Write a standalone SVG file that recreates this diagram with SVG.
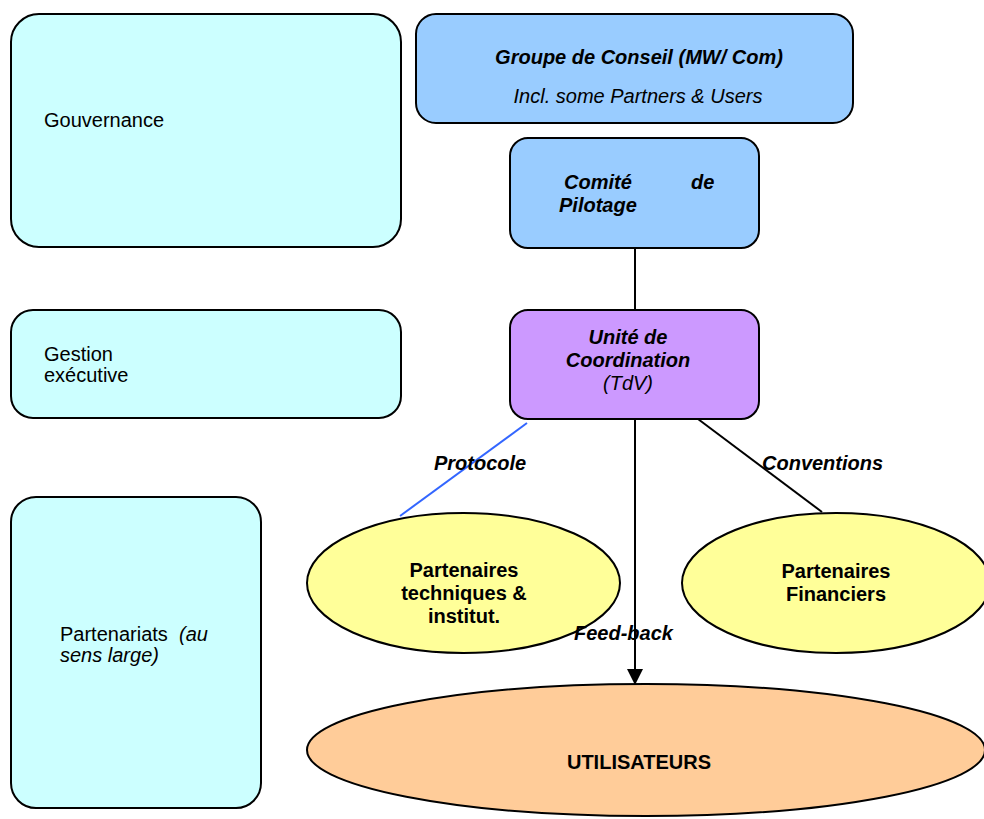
<svg xmlns="http://www.w3.org/2000/svg" width="984" height="819" viewBox="0 0 984 819">
<style>
text{font-family:"Liberation Sans",Arial,sans-serif;font-size:20px;fill:#000}
.b{font-weight:bold}
.i{font-style:italic}
.m{text-anchor:middle}
.cyan{fill:#CCFFFF;stroke:#000;stroke-width:2}
.blue{fill:#99CCFF;stroke:#000;stroke-width:2}
.purple{fill:#CC99FF;stroke:#000;stroke-width:2}
.yellow{fill:#FFFF99;stroke:#000;stroke-width:2}
.orange{fill:#FFCC99;stroke:#000;stroke-width:2}
.ln{stroke:#000;stroke-width:2;fill:none}
</style>
<defs>
<marker id="arr" markerWidth="16" markerHeight="18" refX="15" refY="8" orient="auto" markerUnits="userSpaceOnUse" viewBox="0 0 16 16">
<path d="M0,0 L16,8 L0,16 Z" fill="#000"/>
</marker>
</defs>
<rect width="984" height="819" fill="#fff"/>

<g id="gouvernance">
<rect class="cyan" x="11" y="14" width="390" height="233" rx="28" ry="28"/>
<text x="44" y="127">Gouvernance</text>
</g>
<g id="gestion">
<rect class="cyan" x="11" y="310" width="390" height="108" rx="22" ry="22"/>
<text x="44" y="361">Gestion</text>
<text x="44" y="382">exécutive</text>
</g>
<g id="partenariats">
<rect class="cyan" x="11" y="497" width="250" height="311" rx="25" ry="25"/>
<text x="60" y="641">Partenariats</text>
<text class="i" x="179" y="641">(au</text>
<text class="i" x="60" y="662">sens large)</text>
</g>

<g id="connectors">
<line class="ln" x1="635" y1="248" x2="635" y2="310"/>
<line class="ln" x1="635" y1="419" x2="635" y2="684" marker-end="url(#arr)"/>
<line x1="527" y1="423" x2="400" y2="516" stroke="#3366FF" stroke-width="2"/>
<line class="ln" x1="698" y1="419" x2="822" y2="512"/>
</g>

<g id="groupe">
<rect class="blue" x="416" y="14" width="437" height="109" rx="20" ry="20"/>
<text class="b i m" x="639" y="64">Groupe de Conseil (MW/ Com)</text>
<text class="i m" x="638" y="103">Incl. some Partners &amp; Users</text>
</g>
<g id="comite">
<rect class="blue" x="510" y="138" width="249" height="110" rx="18" ry="18"/>
<text class="b i" x="564" y="189">Comité</text>
<text class="b i" x="691" y="189">de</text>
<text class="b i" x="559" y="212">Pilotage</text>
</g>
<g id="unite">
<rect class="purple" x="510" y="310" width="249" height="109" rx="18" ry="18"/>
<text class="b i m" x="628" y="344">Unité de</text>
<text class="b i m" x="628" y="367">Coordination</text>
<text class="i m" x="628" y="390">(TdV)</text>
</g>

<g id="labels">
<text class="b i" x="434" y="470">Protocole</text>
<text class="b i" x="762" y="470">Conventions</text>
</g>

<g id="part-tech">
<ellipse class="yellow" cx="463.5" cy="583" rx="156.5" ry="70"/>
<text class="b m" x="464" y="577">Partenaires</text>
<text class="b m" x="464" y="600">techniques &amp;</text>
<text class="b m" x="464" y="623">institut.</text>
</g>
<g id="part-fin">
<ellipse class="yellow" cx="836" cy="583" rx="154" ry="70"/>
<text class="b m" x="836" y="578">Partenaires</text>
<text class="b m" x="836" y="601">Financiers</text>
</g>

<g id="feedback-label">
<text class="b i" x="574" y="640">Feed-back</text>
</g>

<g id="utilisateurs">
<ellipse class="orange" cx="646" cy="750" rx="339" ry="66"/>
<text class="b m" x="639" y="769">UTILISATEURS</text>
</g>
</svg>
